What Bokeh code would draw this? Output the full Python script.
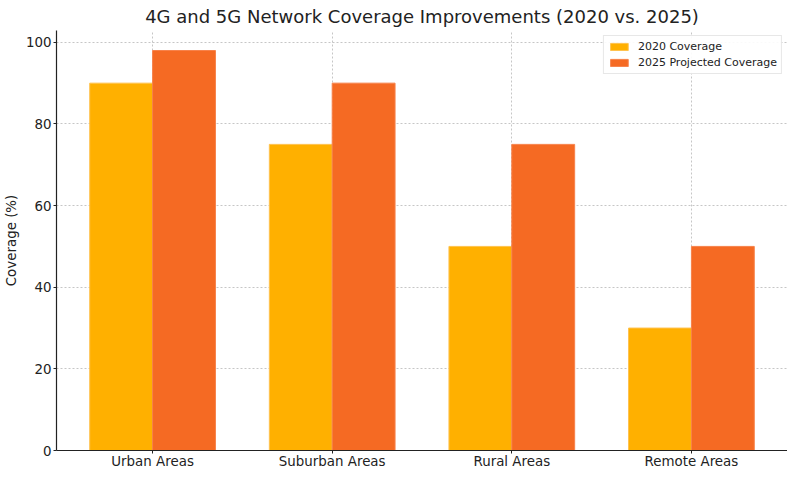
from bokeh.plotting import figure
from bokeh.models import Range1d, FixedTicker, ColumnDataSource, Legend, LegendItem
from bokeh.embed import file_html
from bokeh.resources import INLINE
from bokeh.transform import dodge

categories = ["Urban Areas", "Suburban Areas", "Rural Areas", "Remote Areas"]
cov_2020 = [90, 75, 50, 30]
cov_2025 = [98, 90, 75, 50]
series_labels = ["2020 Coverage", "2025 Projected Coverage"]
y_ticks = [0, 20, 40, 60, 80, 100]

bar_w = 0.35
xs = list(range(len(categories)))
src = ColumnDataSource(dict(x=xs, a=cov_2020, b=cov_2025))

FONT = "DejaVu Sans"
p = figure(frame_width=731, frame_height=420, output_backend="svg", toolbar_location=None,
           x_range=Range1d(-0.535, 3.535), y_range=Range1d(0, max(cov_2025) * 1.05),
           min_border_left=48, min_border_right=0, min_border_top=22, min_border_bottom=19)

r1 = p.vbar(x=dodge("x", -bar_w / 2, range=p.x_range), top="a", width=bar_w, bottom=0,
            source=src, fill_color="#FFB000", line_color="#FFC24D", line_width=1)
r2 = p.vbar(x=dodge("x", bar_w / 2, range=p.x_range), top="b", width=bar_w, bottom=0,
            source=src, fill_color="#F56A23", line_color="#F7824A", line_width=1)

p.title.text = "4G and 5G Network Coverage Improvements (2020 vs. 2025)"
p.title.align = "center"
p.title.text_font = FONT
p.title.text_font_size = "18px"
p.title.text_font_style = "normal"
p.title.text_color = "#222222"
p.title.standoff = 7

p.outline_line_color = None
p.background_fill_color = "white"

p.xaxis.ticker = FixedTicker(ticks=xs)
p.xaxis.major_label_overrides = {i: c for i, c in enumerate(categories)}
p.yaxis.ticker = FixedTicker(ticks=y_ticks)
p.yaxis.axis_label = "Coverage (%)"
for ax in (p.xaxis[0], p.yaxis[0]):
    ax.axis_line_color = "#222222"
    ax.axis_line_width = 1.2
    ax.major_tick_line_color = "#222222"
    ax.major_tick_out = 3
    ax.major_tick_in = 0
    ax.minor_tick_line_color = None
    ax.major_label_text_font = FONT
    ax.major_label_text_font_size = "13.4px"
    ax.major_label_text_color = "#222222"
p.xaxis.major_label_standoff = 0
p.yaxis.major_label_standoff = 2
p.yaxis.axis_label_text_font = FONT
p.yaxis.axis_label_text_font_size = "13.4px"
p.yaxis.axis_label_text_font_style = "normal"
p.yaxis.axis_label_text_color = "#222222"
p.yaxis.axis_label_standoff = 4

p.grid.grid_line_color = "#b8b8b8"
p.grid.grid_line_dash = "2 2"
p.grid.grid_line_width = 0.8

legend = Legend(items=[LegendItem(label=series_labels[0], renderers=[r1]),
                       LegendItem(label=series_labels[1], renderers=[r2])],
                location="top_right")
legend.margin = 5
legend.padding = 4
legend.spacing = 3
legend.glyph_width = 22
legend.glyph_height = 9
legend.label_text_font = FONT
legend.label_text_font_size = "11px"
legend.label_text_color = "#222222"
legend.label_standoff = 8
legend.border_line_color = "#d0d0d0"
legend.background_fill_alpha = 0.9
p.add_layout(legend)

open("out.html", "w").write(file_html(p, INLINE))
